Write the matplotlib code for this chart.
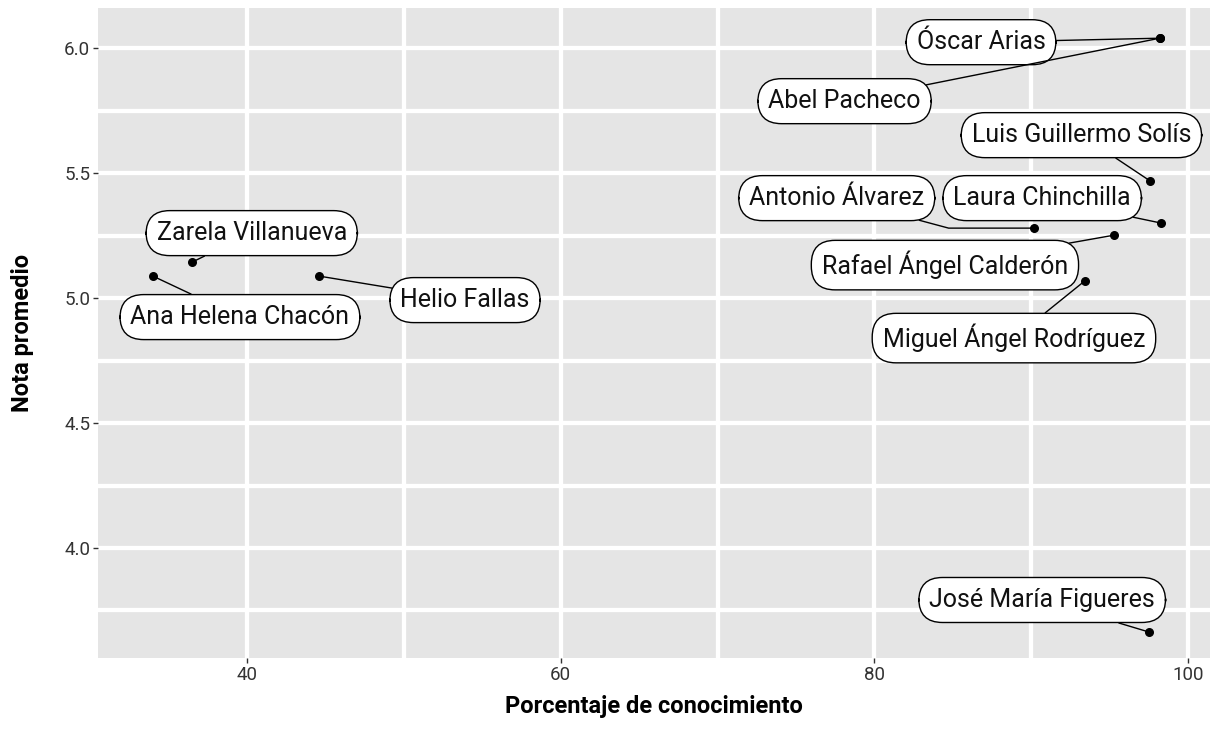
import matplotlib
matplotlib.use("Agg")
from matplotlib import pyplot as plt
from matplotlib.ticker import MultipleLocator

# datos: porcentaje de conocimiento y nota promedio
nombres = ["Óscar Arias", "Abel Pacheco", "Luis Guillermo Solís", "Laura Chinchilla",
           "Antonio Álvarez", "Rafael Ángel Calderón", "Miguel Ángel Rodríguez",
           "José María Figueres", "Zarela Villanueva", "Ana Helena Chacón", "Helio Fallas"]
conocimiento = [98.2, 98.2, 97.6, 98.3, 90.2, 95.3, 93.4, 97.5, 36.5, 34.0, 44.6]
nota = [6.04, 6.04, 5.468, 5.30, 5.28, 5.252, 5.068, 3.664, 5.144, 5.088, 5.088]

# posición de las etiquetas (x, y) en unidades de datos
etiquetas_pos = [(86.8, 6.024), (78.1, 5.788), (93.2, 5.652), (90.7, 5.40),
                 (77.6, 5.40), (84.5, 5.132), (88.9, 4.84), (90.7, 3.792),
                 (40.3, 5.26), (39.55, 4.924), (53.9, 4.992)]
conexion = ["arc3", "arc3", "arc3", "arc3", "angle,angleA=-15,angleB=0,rad=0",
            "arc3", "arc3", "arc3", "arc3", "arc3", "arc3"]

plt.rcParams['font.family'] = ['Roboto', 'DejaVu Sans']
fig = plt.figure(figsize=(12.1, 7.46), dpi=100)
ax = fig.add_axes([0.081, 0.118, 0.919, 0.871])
ax.set_facecolor('#e5e5e5')
for s in ax.spines.values():
    s.set_visible(False)

ax.set_xlim(30.5, 101.4)
ax.set_ylim(3.56, 6.16)
ax.xaxis.set_major_locator(MultipleLocator(20))
ax.xaxis.set_minor_locator(MultipleLocator(10))
ax.yaxis.set_major_locator(MultipleLocator(0.5))
ax.yaxis.set_minor_locator(MultipleLocator(0.25))
ax.set_yticks([4.0, 4.5, 5.0, 5.5, 6.0])
ax.set_yticklabels(["4.0", "4.5", "5.0", "5.5", "6.0"])
ax.grid(True, which='both', color='white', linewidth=3.1)
ax.set_axisbelow(True)
ax.tick_params(which='major', length=3.5, width=1, color='#333333',
               labelsize=13.5, labelcolor='#333333', pad=2)
ax.tick_params(which='minor', length=0)

ax.scatter(conocimiento, nota, s=30, color='black', zorder=3)

for nombre, x, y, pos, con in zip(nombres, conocimiento, nota, etiquetas_pos, conexion):
    ax.annotate(nombre, xy=(x, y), xytext=pos, textcoords='data',
                ha='center', va='center', fontsize=18, color='#111111',
                bbox=dict(boxstyle='round,pad=0.42,rounding_size=0.95',
                          fc='white', ec='black', lw=1),
                arrowprops=dict(arrowstyle='-', color='black', lw=1,
                                shrinkA=0, shrinkB=2, connectionstyle=con),
                zorder=4)

ax.set_xlabel("Porcentaje de conocimiento", fontsize=17, fontweight='bold', labelpad=8)
ax.set_ylabel("Nota promedio", fontsize=17, fontweight='bold', labelpad=22)

fig.savefig("out.png", dpi=100)
